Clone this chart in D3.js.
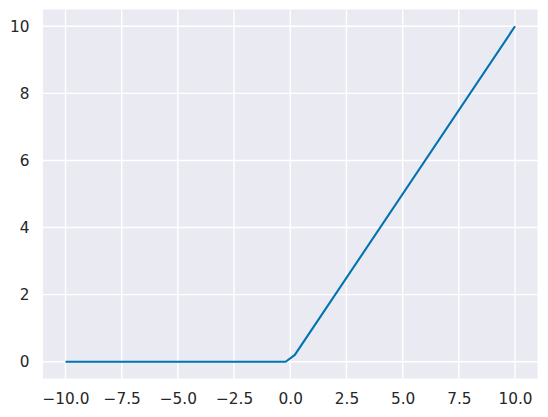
<!DOCTYPE html>
<html>
<head>
<meta charset="utf-8">
<script src="https://cdn.jsdelivr.net/npm/d3@7"></script>
<style>
  html, body { margin: 0; padding: 0; background: #ffffff; }
  svg { display: block; }
</style>
</head>
<body>
<svg id="chart" width="548" height="417"></svg>
<script>
// Data (ReLU curve breakpoints)
const xValues = [-10, -0.204, 0.204, 10];
const yValues = [0, 0, 0.204, 10];
const xTicks = [-10, -7.5, -5, -2.5, 0, 2.5, 5, 7.5, 10];
const yTicks = [0, 2, 4, 6, 8, 10];

const svg = d3.select("#chart");
const plotLeft = 43, plotRight = 537.5, plotTop = 9.5, plotBottom = 378.5;

const x = d3.scaleLinear().domain([-11, 11]).range([plotLeft, plotRight]);
const y = d3.scaleLinear().domain([-0.5, 10.5]).range([plotBottom, plotTop]);

// background
svg.append("rect")
  .attr("x", plotLeft).attr("y", plotTop)
  .attr("width", plotRight - plotLeft).attr("height", plotBottom - plotTop)
  .attr("fill", "#EAEAF2");

// grid
const g = svg.append("g");
g.selectAll("line.vx").data(xTicks).enter().append("line")
  .attr("x1", d => x(d)).attr("x2", d => x(d))
  .attr("y1", plotTop).attr("y2", plotBottom)
  .attr("stroke", "#ffffff").attr("stroke-width", 1.4);
g.selectAll("line.hy").data(yTicks).enter().append("line")
  .attr("y1", d => y(d)).attr("y2", d => y(d))
  .attr("x1", plotLeft).attr("x2", plotRight)
  .attr("stroke", "#ffffff").attr("stroke-width", 1.4);

// axes via d3 axis (no tick lines / domain)
const fmtX = d3.format(".1f");
const xAxis = d3.axisBottom(x).tickValues(xTicks).tickFormat(fmtX).tickSize(0).tickPadding(15);
const yAxis = d3.axisLeft(y).tickValues(yTicks).tickFormat(d3.format("d")).tickSize(0).tickPadding(13.5);

const gx = svg.append("g").attr("transform", `translate(0,${plotBottom})`).call(xAxis);
const gy = svg.append("g").attr("transform", `translate(${plotLeft},0)`).call(yAxis);
[gx, gy].forEach(a => {
  a.select(".domain").remove();
  a.selectAll("text")
    .attr("fill", "#262626")
    .style("font-family", "'DejaVu Sans', sans-serif")
    .style("font-size", "15.3px");
});

// line
const pts = xValues.map((v, i) => [v, yValues[i]]);
svg.append("path")
  .datum(pts)
  .attr("fill", "none")
  .attr("stroke", "#0173B2")
  .attr("stroke-width", 2.1)
  .attr("stroke-linejoin", "round")
  .attr("stroke-linecap", "butt")
  .attr("d", d3.line().x(d => x(d[0])).y(d => y(d[1])));
</script>
</body>
</html>
